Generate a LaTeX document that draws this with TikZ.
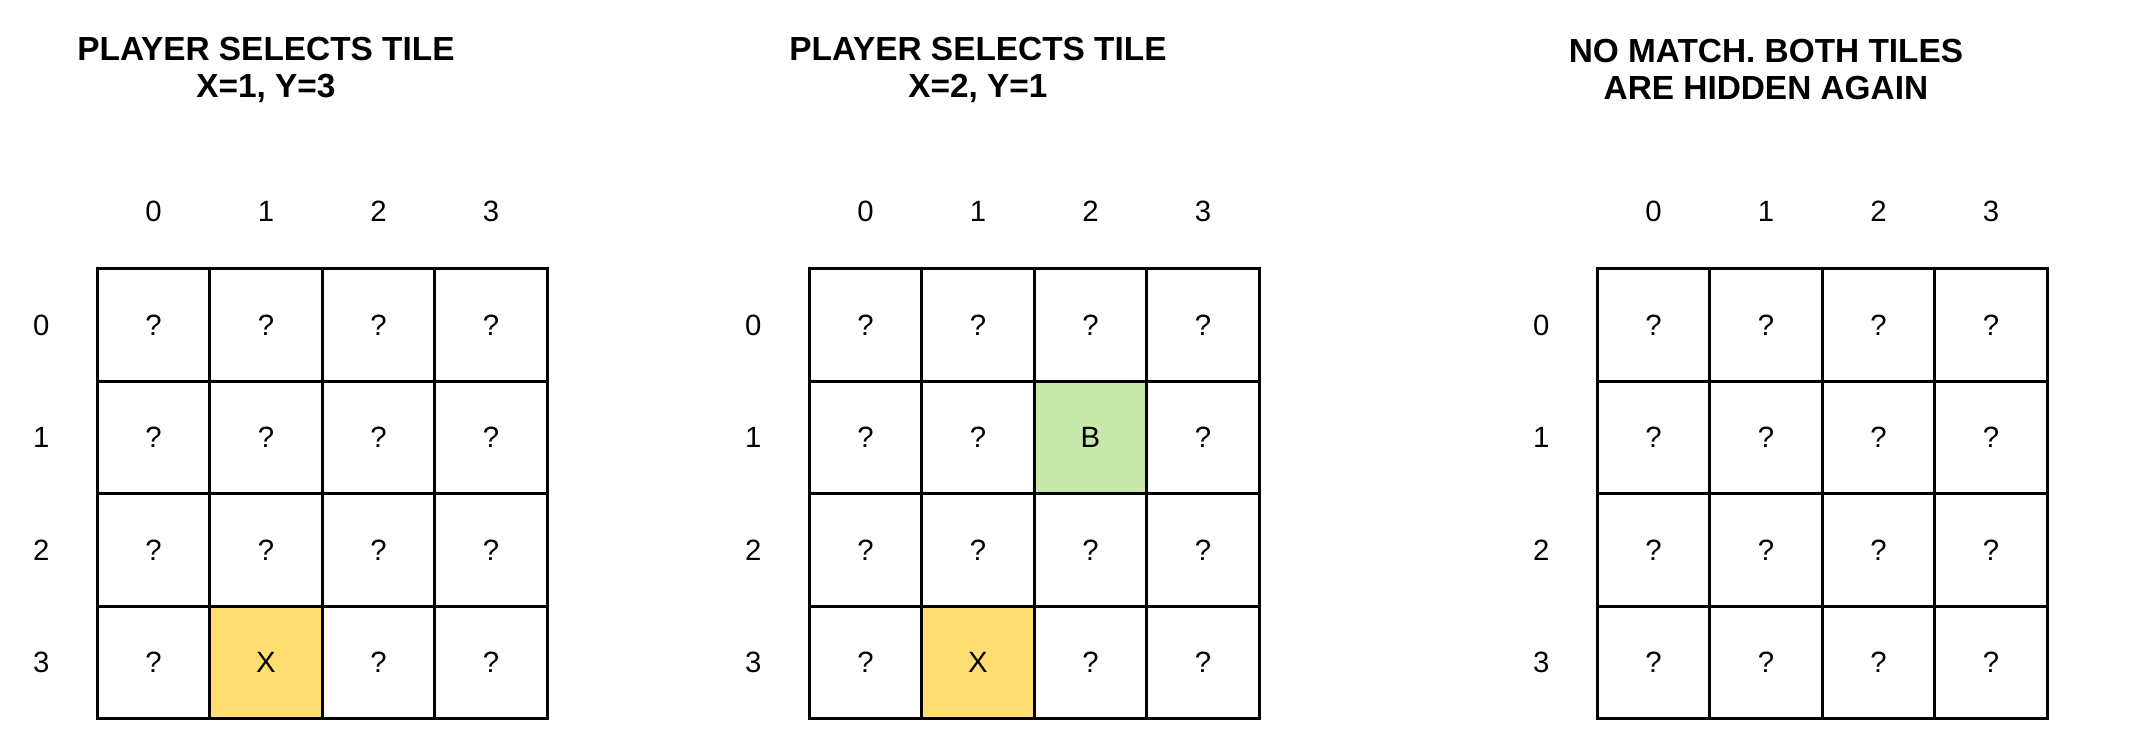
\documentclass[tikz,border=0pt]{standalone}
\usepackage{fontspec}
\setmainfont{Liberation Sans}
\usetikzlibrary{positioning}

\definecolor{pick}{RGB}{255,221,112}
\definecolor{match}{RGB}{199,231,171}

\tikzset{
  tile/.style={draw, line width=1.7pt, minimum size=2.25cm, inner sep=0pt,
    font=\fontsize{16.7}{20}\selectfont},
  idx/.style={font=\fontsize{16.7}{20}\selectfont},
  caption/.style={align=center, font=\fontsize{19}{21}\selectfont\bfseries},
  % tiles that are turned over
  cell a13/.style={fill=pick, node contents=X},
  cell b13/.style={fill=pick, node contents=X},
  cell b21/.style={fill=match, node contents=B},
}

\begin{document}
\begin{tikzpicture}[x=0.02cm, y=-0.02cm]
\useasboundingbox (0,0) rectangle (2130,735);

\coordinate (top) at (0,69.5);

% the three boards, column i and row j
\foreach \b/\xo in {a/97.2, b/809.2, c/1597.2} {
  \foreach \i in {0,...,3} {
    \node[idx] (\b-col\i) at (\xo+56.25+112.5*\i, 211.7) {\i};
    \node[idx] (\b-row\i) at (\xo-56, 325.05+112.5*\i) {\i};
    \foreach \j in {0,...,3}
      \node (\b-\i-\j) at (\xo+56.25+112.5*\i, 325.05+112.5*\j)
        [tile, node contents=?, cell \b\i\j/.try];
  }
}

\node[caption] (ta) at (a-col1 |- top) {PLAYER SELECTS TILE\\X=1, Y=3};
\node[caption] (tb) at (b-col1 |- top) {PLAYER SELECTS TILE\\X=2, Y=1};
\node[caption] (tc) at (c-col1 |- top) {NO MATCH. BOTH TILES\\ARE HIDDEN AGAIN};

\end{tikzpicture}
\end{document}
